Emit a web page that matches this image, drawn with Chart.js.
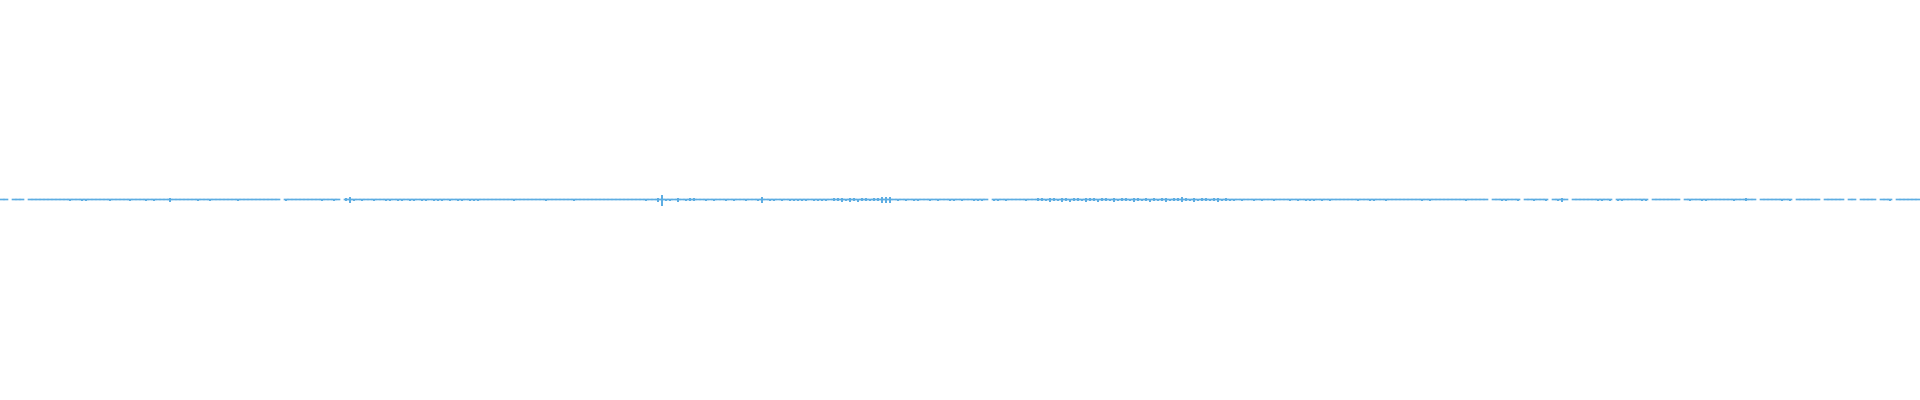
<!DOCTYPE html>
<html>
<head>
<meta charset="utf-8">
<title>Forma de onda</title>
<script src="https://cdn.jsdelivr.net/npm/chart.js@4"></script>
<style>
  html, body { margin: 0; padding: 0; background: #ffffff; }
  #wave { display: block; }
</style>
</head>
<body>
<canvas id="wave" width="1920" height="400"></canvas>
<script>
// amostras: 480 colunas, cada uma 4px na imagem original
// dn = pixels abaixo da linha central (linha inclusa), up = pixels acima
const dn = [
  1,1,0,1,1,1,0,1,1,1, 1,1,1,1,1,1,1,2,1,1, 2,2,1,1,1,1,1,2,1,1, 1,1,2,1,1,1,2,1,2,1,
  1,1,3,1,1,1,1,1,1,2, 1,1,2,1,1,1,1,1,1,2, 1,1,1,1,1,1,1,1,1,1, 0,2,1,1,1,1,1,1,1,1,
  2,1,1,2,1,0,2,4,2,1, 2,1,1,2,1,1,2,2,1,2, 2,1,2,2,1,2,2,1,2,2, 2,1,2,1,2,2,1,2,2,2,
  1,1,1,1,1,1,1,1,2,1, 1,1,1,1,1,1,2,1,1,1, 1,1,1,2,1,1,1,1,1,1, 1,1,1,1,1,1,1,1,1,1,
  1,2,1,1,3,7,2,2,1,3, 1,2,2,2,1,1,2,1,2,1, 1,2,1,2,1,1,2,1,1,2, 4,1,2,2,1,2,1,2,2,2,
  2,2,1,2,2,2,2,1,2,2, 3,2,3,2,3,2,2,2,2,2, 4,4,4,1,2,1,2,1,2,2, 1,1,2,1,2,1,1,2,2,1,
  2,1,1,2,2,2,1,0,2,2, 1,2,1,1,1,1,2,1,1,2, 2,2,3,2,2,3,2,3,2,2, 2,3,2,2,3,2,2,2,3,2,
  2,2,2,3,2,2,2,3,2,2, 2,3,2,2,2,3,2,2,3,2, 2,2,2,2,3,2,2,2,2,1, 2,1,1,2,1,2,1,1,2,1,
  1,1,2,1,2,1,2,2,2,1, 2,1,2,1,1,1,1,1,1,2, 1,1,2,2,1,1,2,1,1,1, 1,1,1,1,1,2,1,2,1,1,
  1,1,1,1,1,1,2,1,1,1, 1,1,0,1,1,2,2,1,1,2, 0,1,1,2,1,1,2,0,1,2, 3,1,0,1,1,1,1,1,1,2,
  2,1,2,0,2,2,1,1,1,1, 2,2,0,1,1,1,1,1,1,1, 0,1,2,1,1,2,2,1,1,1, 1,1,1,2,1,1,2,1,1,0,
  1,1,1,1,1,2,1,2,0,1, 1,1,1,1,1,0,1,1,1,1, 1,0,1,1,0,1,1,1,1,0, 1,1,2,0,1,1,1,1,1,1
];
const up = [
  0,0,0,0,0,0,0,0,0,0, 0,0,0,0,0,0,0,0,0,0, 0,0,0,0,0,0,0,0,0,0, 0,0,0,0,0,0,0,0,0,0,
  0,0,1,0,0,0,0,0,0,0, 0,0,0,0,0,0,0,0,0,0, 0,0,0,0,0,0,0,0,0,0, 0,0,0,0,0,0,0,0,0,0,
  0,0,0,0,0,0,1,2,0,0, 0,0,0,0,0,0,0,0,0,0, 0,0,0,0,0,0,0,0,0,0, 0,0,0,0,0,0,0,0,0,0,
  0,0,0,0,0,0,0,0,0,0, 0,0,0,0,0,0,0,0,0,0, 0,0,0,0,0,0,0,0,0,0, 0,0,0,0,0,0,0,0,0,0,
  0,0,0,0,1,4,0,0,0,1, 0,0,1,1,0,0,0,0,0,0, 0,0,0,0,0,0,0,0,0,0, 2,0,0,0,0,0,0,0,0,0,
  0,0,0,0,0,0,0,0,1,1, 1,0,1,1,0,1,1,0,1,1, 2,2,2,0,0,0,0,0,0,0, 0,0,0,0,0,0,0,0,0,0,
  0,0,0,0,0,0,0,0,0,0, 0,0,0,0,0,0,0,0,0,1, 1,0,1,1,0,1,1,0,1,1, 0,1,1,1,0,1,1,0,1,0,
  1,1,0,1,1,0,1,0,1,0, 1,1,0,1,1,2,1,0,1,0, 1,1,0,1,1,0,1,0,0,0, 0,0,0,0,0,0,0,0,0,0,
  0,0,0,0,0,0,0,0,0,0, 0,0,0,0,0,0,0,0,0,0, 0,0,0,0,0,0,0,0,0,0, 0,0,0,0,0,0,0,0,0,0,
  0,0,0,0,0,0,0,0,0,0, 0,0,0,0,0,0,0,0,0,0, 0,0,0,0,0,0,0,0,0,0, 1,0,0,0,0,0,0,0,0,0,
  0,0,0,0,0,0,0,0,0,0, 0,0,0,0,0,0,0,0,0,0, 0,0,0,0,0,0,0,0,0,0, 0,0,0,0,0,0,1,0,0,0,
  0,0,0,0,0,0,0,0,0,0, 0,0,0,0,0,0,0,0,0,0, 0,0,0,0,0,0,0,0,0,0, 0,0,0,0,0,0,0,0,0,0
];
const labels = dn.map((_, i) => i);

// linha base (largura cheia) e picos finos por cima
const linha = dn.map(d => d > 0 ? [-1, 0] : null);
const picos = dn.map((d, i) => (d > 1 || up[i] > 0) ? [-d, up[i]] : null);

new Chart(document.getElementById("wave"), {
  type: "bar",
  data: {
    labels: labels,
    datasets: [
      { data: linha, backgroundColor: "#5dade2", borderWidth: 0, barPercentage: 1, categoryPercentage: 1 },
      { data: picos, backgroundColor: "#5dade2", borderWidth: 0, barPercentage: 0.5, categoryPercentage: 1 }
    ]
  },
  options: {
    responsive: false,
    animation: false,
    grouped: false,
    layout: { padding: 0 },
    plugins: { legend: { display: false }, tooltip: { enabled: false } },
    scales: {
      x: { display: false },
      y: { display: false, min: -201, max: 199 } // 1 unidade = 1px, linha em y=199
    }
  }
});
</script>
</body>
</html>
